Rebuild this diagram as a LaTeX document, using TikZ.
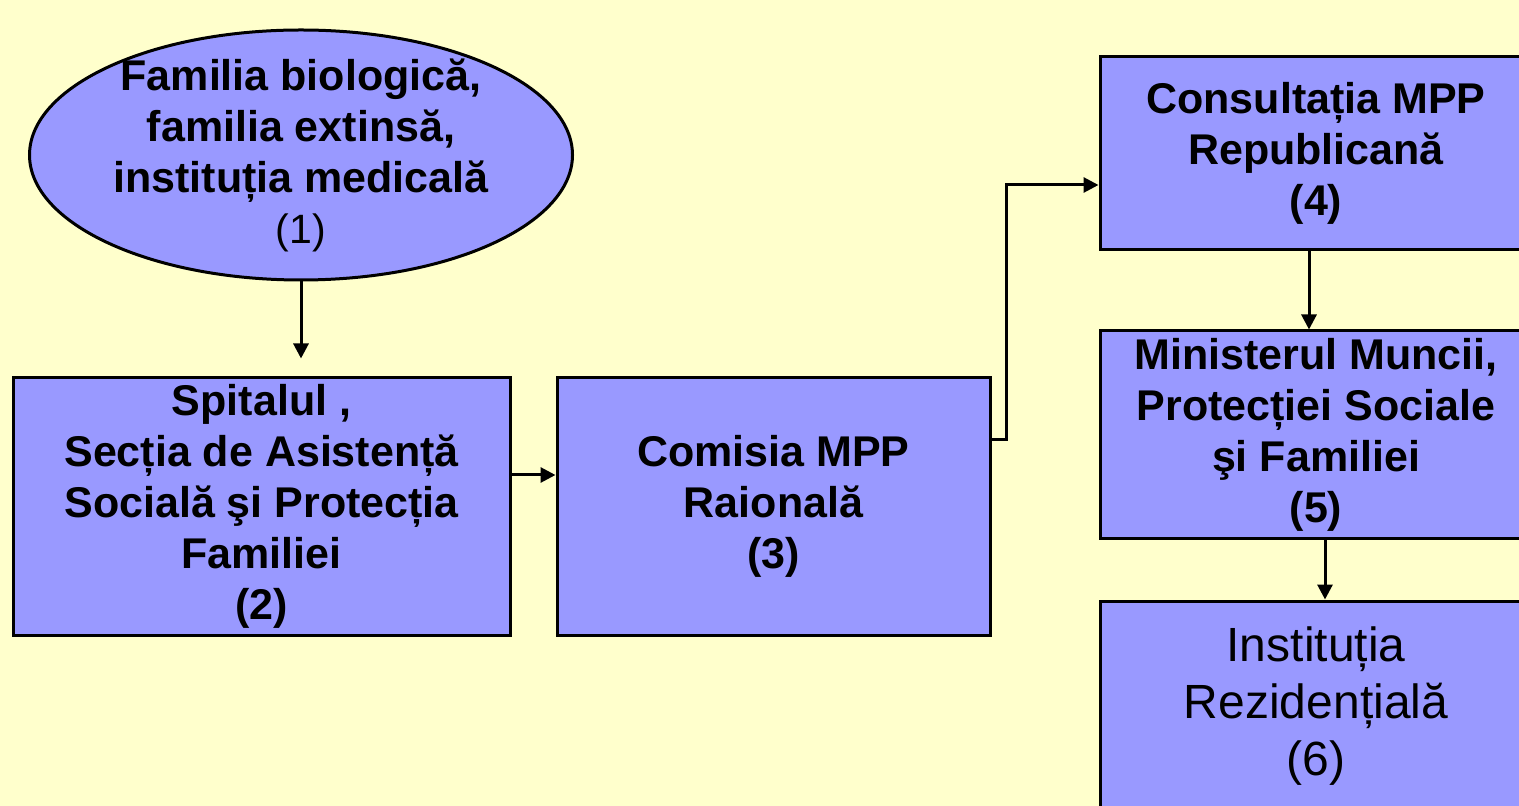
\documentclass[tikz,border=0pt]{standalone}
\usepackage{fontspec}
\setmainfont{Liberation Sans}
\usetikzlibrary{shapes.geometric,arrows.meta}
\definecolor{bgyellow}{HTML}{FFFFCC}
\definecolor{boxblue}{HTML}{9999FF}

\begin{document}
\begin{tikzpicture}[x=0.5pt,y=-0.5pt,
    box/.style={draw,line width=1.5pt,fill=boxblue,align=center,inner sep=0pt,
        font=\fontsize{21.5}{25.5}\selectfont\bfseries},
    arr/.style={line width=1.5pt,-{Triangle[length=7.5pt,width=7.5pt]}}]

            % Background
            \fill[bgyellow] (0,0) rectangle (1519,806);
            \useasboundingbox (0,0) rectangle (1519,806);

            % Starting point (ellipse)
            \node[box,ellipse,inner ysep=-6pt,minimum width=271.5pt,minimum height=125pt] (fam) at (301,155)
                {Familia biologică,\\ familia extinsă,\\ instituția medicală\\ {\mdseries\fontsize{20.5}{25.5}\selectfont (1)}};

            % Left boxes
            \node[box,minimum width=248.5pt,minimum height=128.5pt] (spit) at (261.5,506.5)
                {Spitalul ,\\ Secția de Asistență\\ Socială şi Protecția\\ Familiei\\ (2)};
            \node[box,minimum width=216.5pt,minimum height=128.5pt] (com) at (773.5,506.5)
                {Comisia MPP\\ Raională\\ (3)};

            % Right column
            \node[box,minimum width=216pt,minimum height=96.5pt] (cons) at (1316,153.5)
                {Consultația MPP\\ Republicană\\ (4)};
            \node[box,minimum width=216pt,minimum height=103.5pt] (min) at (1316,434.5)
                {Ministerul Muncii,\\ Protecției Sociale\\ şi Familiei\\ (5)};
            \node[box,minimum width=216pt,minimum height=105.5pt,
                font=\fontsize{24}{28.5}\selectfont] (inst) at (1316,706.5)
                {Instituția\\ Rezidențială\\ (6)};

            % Connectors
            \draw[arr] (fam.south) -- ([yshift=9pt]spit.north -| fam.south);
            \draw[arr] ([yshift=15.75pt]spit.east) -- ([yshift=15.75pt]com.west);
            \draw[arr] ([yshift=33.25pt]com.east) -- ++(15,0) |- ([yshift=-15.75pt]cons.west);
            \draw[arr] ([xshift=-3.5pt]cons.south) -- ([xshift=-3.5pt]min.north);
            \draw[arr] ([xshift=4.5pt]min.south) -- ([xshift=4.5pt]inst.north);

\end{tikzpicture}
\end{document}
